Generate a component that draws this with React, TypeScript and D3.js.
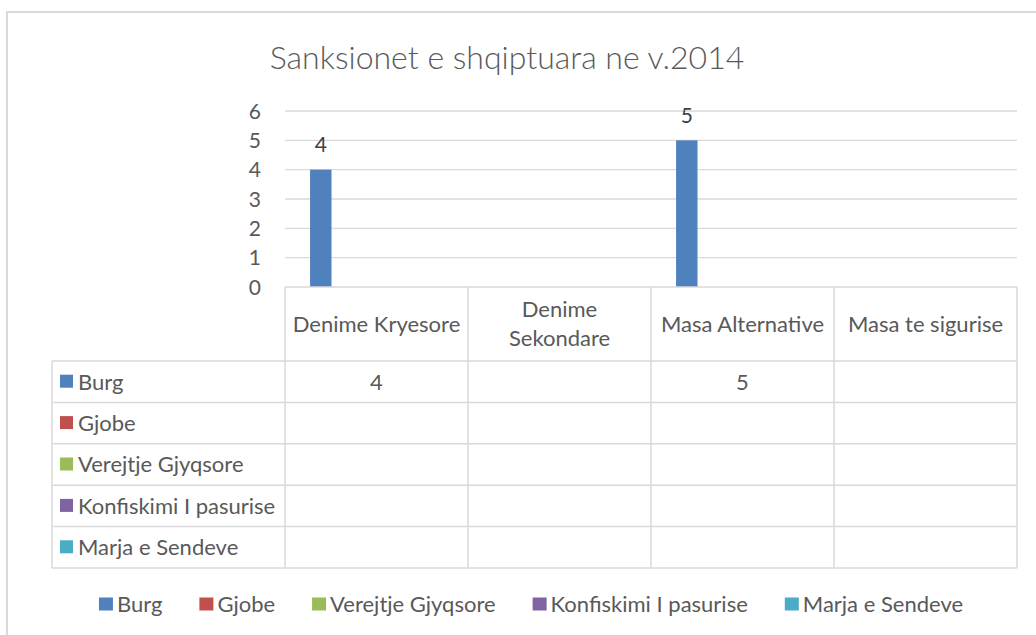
import React, { useEffect, useRef } from "react";
import * as d3 from "d3";

const title = "Sanksionet e shqiptuara ne v.2014";
const categories = ["Denime Kryesore", "Denime Sekondare", "Masa Alternative", "Masa te sigurise"];
const seriesNames = ["Burg", "Gjobe", "Verejtje Gjyqsore", "Konfiskimi I pasurise", "Marja e Sendeve"];
const seriesColors = ["#4f81bd", "#c0504d", "#9bbb59", "#8064a2", "#4bacc6"];
const burg: (number | null)[] = [4, null, 5, null];
const gjobe: (number | null)[] = [null, null, null, null];
const verejtje: (number | null)[] = [null, null, null, null];
const konfiskimi: (number | null)[] = [null, null, null, null];
const marja: (number | null)[] = [null, null, null, null];
const seriesValues = [burg, gjobe, verejtje, konfiskimi, marja];
const yTicks = [0, 1, 2, 3, 4, 5, 6];

const FONT = "Lato, 'Open Sans', 'DejaVu Sans', sans-serif";
const TEXT = "#595959";
const GRID = "#d9d9d9";

export default function App() {
  const ref = useRef<SVGSVGElement>(null);

  useEffect(() => {
    const svg = d3.select(ref.current);
    svg.selectAll("*").remove();
    const W = 1036, H = 635;

    svg.append("rect").attr("width", W).attr("height", H).attr("fill", "#fff");
    // chart area border
    svg.append("rect").attr("x", 7).attr("y", 12).attr("width", 1100).attr("height", 800)
      .attr("fill", "none").attr("stroke", GRID).attr("stroke-width", 2);

    // title
    svg.append("text").attr("x", 507).attr("y", 69).attr("text-anchor", "middle")
      .attr("font-family", FONT).attr("font-size", 32).attr("font-weight", 300).attr("fill", TEXT).text(title);

    const plotLeft = 285, plotRight = 1017, plotTop = 111, plotBottom = 287;
    const x = d3.scaleBand<string>().domain(categories).range([plotLeft, plotRight]).padding(0);
    const xs = d3.scaleBand<string>().domain(seriesNames).range([0, x.bandwidth()])
      .paddingInner(0.23).paddingOuter(0.9);
    const y = d3.scaleLinear().domain([0, 6]).range([plotBottom, plotTop]);

    // gridlines
    svg.append("g").selectAll("line").data(yTicks.filter((t) => t > 0)).join("line")
      .attr("x1", plotLeft).attr("x2", plotRight)
      .attr("y1", (d) => y(d)).attr("y2", (d) => y(d))
      .attr("stroke", GRID).attr("stroke-width", 1.3);

    // y tick labels
    svg.append("g").selectAll("text").data(yTicks).join("text")
      .attr("x", 261).attr("y", (d) => y(d)).attr("dy", "0.36em").attr("text-anchor", "end")
      .attr("font-family", FONT).attr("font-size", 21).attr("fill", TEXT).text((d) => String(d));

    // bars
    seriesNames.forEach((s, si) => {
      const pts = categories.map((c, ci) => ({ c, v: seriesValues[si][ci] })).filter((p) => p.v != null) as { c: string; v: number }[];
      const g = svg.append("g");
      g.selectAll("rect").data(pts).join("rect")
        .attr("x", (d) => (x(d.c) as number) + (xs(s) as number))
        .attr("width", xs.bandwidth())
        .attr("y", (d) => y(d.v))
        .attr("height", (d) => y(0) - y(d.v))
        .attr("fill", seriesColors[si]);
      g.selectAll("text").data(pts).join("text")
        .attr("x", (d) => (x(d.c) as number) + (xs(s) as number) + xs.bandwidth() / 2)
        .attr("y", (d) => y(d.v) - 25).attr("dy", "0.36em").attr("text-anchor", "middle")
        .attr("font-family", FONT).attr("font-size", 21).attr("fill", "#404040").text((d) => String(d.v));
    });

    // data table
    const tableLeft = 52;
    const headerBottom = 361;
    const tableBottom = 568;
    const rowH = (tableBottom - headerBottom) / seriesNames.length;
    const tg = svg.append("g").attr("stroke", GRID).attr("stroke-width", 1.5).attr("fill", "none");
    tg.append("line").attr("x1", plotLeft).attr("x2", plotRight).attr("y1", plotBottom).attr("y2", plotBottom);
    seriesNames.forEach((_, i) => {
      tg.append("line").attr("x1", tableLeft).attr("x2", plotRight)
        .attr("y1", headerBottom + i * rowH).attr("y2", headerBottom + i * rowH);
    });
    tg.append("line").attr("x1", tableLeft).attr("x2", plotRight).attr("y1", tableBottom).attr("y2", tableBottom);
    tg.append("line").attr("x1", tableLeft).attr("x2", tableLeft).attr("y1", headerBottom).attr("y2", tableBottom);
    [...categories.map((c) => x(c) as number), plotRight].forEach((xx) => {
      tg.append("line").attr("x1", xx).attr("x2", xx).attr("y1", plotBottom).attr("y2", tableBottom);
    });

    // header labels (wrap if too long)
    categories.forEach((c) => {
      const cx = (x(c) as number) + x.bandwidth() / 2;
      const cy = (plotBottom + headerBottom) / 2;
      const t = svg.append("text").attr("x", cx).attr("y", cy).attr("dy", "0.36em").attr("text-anchor", "middle")
        .attr("font-family", FONT).attr("font-size", 22).attr("fill", TEXT).text(c);
      const node = t.node() as SVGTextElement;
      if (node.getComputedTextLength() > x.bandwidth() - 10) {
        const words = c.split(" ");
        t.text(null);
        const lh = 29;
        words.forEach((w, wi) => {
          t.append("tspan").attr("x", cx).attr("y", cy + (wi - (words.length - 1) / 2) * lh)
            .attr("dy", "0.36em").text(w);
        });
      }
    });

    // row labels + values
    seriesNames.forEach((s, si) => {
      const cy = headerBottom + si * rowH + rowH / 2;
      svg.append("rect").attr("x", 60).attr("y", cy - 7).attr("width", 13).attr("height", 13).attr("fill", seriesColors[si]);
      svg.append("text").attr("x", 78).attr("y", cy).attr("dy", "0.36em")
        .attr("font-family", FONT).attr("font-size", 22).attr("fill", TEXT).text(s);
      categories.forEach((c, ci) => {
        const v = seriesValues[si][ci];
        if (v == null) return;
        svg.append("text").attr("x", (x(c) as number) + x.bandwidth() / 2).attr("y", cy).attr("dy", "0.36em")
          .attr("text-anchor", "middle").attr("font-family", FONT).attr("font-size", 22).attr("fill", TEXT).text(String(v));
      });
    });

    // legend
    const lg = svg.append("g");
    const ly = 604.5;
    let cursor = 0;
    const gap = 37;
    seriesNames.forEach((s, si) => {
      const item = lg.append("g").attr("transform", `translate(${cursor},0)`);
      item.append("rect").attr("x", 0).attr("y", ly - 7).attr("width", 14).attr("height", 13).attr("fill", seriesColors[si]);
      const t = item.append("text").attr("x", 18).attr("y", ly).attr("dy", "0.36em")
        .attr("font-family", FONT).attr("font-size", 22).attr("fill", TEXT).text(s);
      cursor += 18 + (t.node() as SVGTextElement).getComputedTextLength() + gap;
    });
    const total = cursor - gap;
    lg.attr("transform", `translate(${531 - total / 2},0)`);
  }, []);

  return (
    <svg ref={ref} width={1036} height={635}
      style={{ position: "absolute", left: 0, top: 0, display: "block" }} />
  );
}
